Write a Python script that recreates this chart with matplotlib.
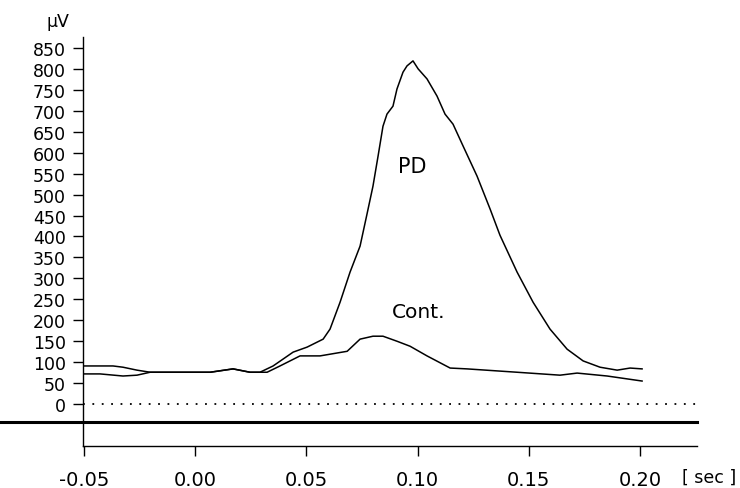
import matplotlib
matplotlib.use("Agg")
import matplotlib.pyplot as plt
import numpy as np

# ---- data ----
pd_t = [-0.050, -0.037, -0.0325, -0.0262, -0.0203, -0.0068, 0.0067, 0.017, 0.0246, 0.0291,
        0.035, 0.044, 0.0503, 0.0575, 0.0606, 0.0651, 0.0696, 0.0741, 0.0772, 0.0799,
        0.0822, 0.0844, 0.0862, 0.0889, 0.0907, 0.0934, 0.0952, 0.0979, 0.1002, 0.1042,
        0.1087, 0.1123, 0.1159, 0.1204, 0.1267, 0.1326, 0.137, 0.1447, 0.1519, 0.1595,
        0.1672, 0.1744, 0.182, 0.1897, 0.1955, 0.2009]
pd_uv = [91, 91, 88, 81, 76, 76, 76, 84, 76, 76,
         91, 124, 136, 155, 179, 243, 315, 377, 453, 520,
         592, 663, 692, 711, 752, 792, 807, 819, 800, 776,
         735, 692, 668, 616, 544, 465, 403, 315, 243, 179,
         131, 103, 88, 81, 86, 84]

cont_t = [-0.050, -0.0428, -0.0325, -0.0262, -0.0203, -0.0068, 0.0067, 0.017, 0.0246, 0.0323,
          0.0381, 0.0471, 0.0561, 0.0683, 0.0741, 0.0799, 0.0844, 0.0907, 0.0966, 0.1042,
          0.1146, 0.1222, 0.1447, 0.164, 0.1717, 0.1852, 0.2009]
cont_uv = [72, 72, 67, 69, 76, 76, 76, 84, 76, 76,
           91, 115, 115, 126, 155, 162, 162, 150, 138, 115,
           86, 84, 76, 69, 74, 67, 55]

x_ticks = [-0.05, 0.00, 0.05, 0.10, 0.15, 0.20]
x_ticklabels = ["-0.05", "0.00", "0.05", "0.10", "0.15", "0.20"]
y_ticks = list(range(0, 851, 50))
baseline_uv = -43

plt.rcParams['font.family'] = ['DejaVu Sans']

fig = plt.figure(figsize=(7.40, 4.89), dpi=100)
ax = fig.add_axes([0.1118, 0.0859, 0.9419 - 0.1118, 0.9223 - 0.0859])

ax.plot(pd_t, pd_uv, color='black', lw=1.1)
ax.plot(cont_t, cont_uv, color='black', lw=1.1)

ax.axhline(0, xmin=0.0, xmax=1.0, color='black', lw=1.3, linestyle=(0, (1, 4.2)))
ax.axhline(baseline_uv, xmin=-0.135, xmax=1.0, color='black', lw=2.2, clip_on=False)

ax.set_xlim(-0.0506, 0.2256)
ax.set_ylim(-100, 876)

ax.set_xticks(x_ticks)
ax.set_xticklabels(x_ticklabels)
ax.set_yticks(y_ticks)

for s in ['top', 'right']:
    ax.spines[s].set_visible(False)
for s in ['left', 'bottom']:
    ax.spines[s].set_linewidth(1.0)

ax.tick_params(axis='y', direction='out', length=7, width=1.0, pad=5, labelsize=12.5)
ax.tick_params(axis='x', direction='out', length=7, width=1.0, pad=10, labelsize=14)

ax.text(0.0975, 568, "PD", fontsize=15, ha='center', va='center')
ax.text(0.1006, 222, "Cont.", fontsize=14.5, ha='center', va='center')

fig.text(0.078, 0.955, "μV", fontsize=12.5, ha='center', va='center')
fig.text(0.958, 0.0225, "[ sec ]", fontsize=12.5, ha='center', va='center')

fig.savefig("out.png", dpi=100)
